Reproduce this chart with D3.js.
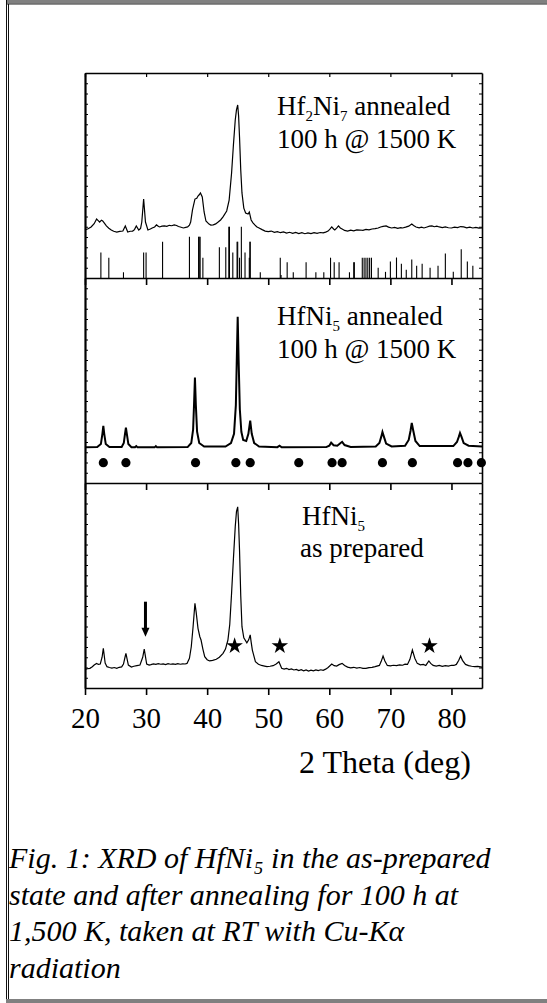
<!DOCTYPE html>
<html>
<head>
<meta charset="utf-8">
<script src="https://cdn.jsdelivr.net/npm/d3@7"></script>
<style>
  body { margin: 0; background: #fff; }
  svg { display: block; font-family: "Liberation Serif", "Times New Roman", serif; }
</style>
</head>
<body>
<div id="chart"></div>
<script>
// 2theta (deg), intensity (arb. units, 0-100 per panel)
var hf2ni7 = [
  [20,23.4],[20.5,24.0],[21.0,24.9],[21.5,26.5],[21.9,28.8],[22.2,27.9],[22.4,27.3],[22.7,28.2],[22.9,27.8],
  [23.2,26.6],[23.5,25.4],[23.9,24.3],[24.3,23.4],[24.7,22.8],[25.2,22.4],[25.7,22.7],[26.2,22.9],
  [26.6,25.4],[27.0,22.4],[27.4,22.8],[27.8,22.9],[28.1,23.6],[28.4,25.4],[28.8,23.4],[29.1,24.2],
  [29.3,27.3],[29.6,38.5],[29.9,27.3],[30.3,23.4],[30.7,23.9],[31.0,24.4],[31.4,24.9],[31.7,25.9],
  [32.0,25.2],[32.2,24.9],[32.6,25.3],[33.0,25.4],[33.4,25.2],[33.8,25.7],[34.2,25.5],[34.6,25.9],
  [35.0,25.6],[35.3,25.1],[35.6,24.9],[36.1,24.4],[36.5,24.7],[36.8,24.9],[37.1,25.8],[37.3,27.3],
  [37.6,33.2],[38.0,38.5],[38.3,38.9],[38.5,40.0],[38.7,40.6],[38.9,41.5],[39.2,39.5],[39.5,32.2],
  [39.8,27.8],[40.3,26.3],[40.6,25.8],[41.0,25.9],[41.4,26.4],[41.8,27.3],[42.2,28.3],[42.6,29.8],
  [43.2,32.7],[43.6,38.0],[44.0,51.2],[44.3,64.9],[44.6,77.1],[44.8,82.0],[45.0,84.4],[45.15,79.0],
  [45.3,68.8],[45.5,52.7],[45.7,41.5],[46.0,34.1],[46.3,31.7],[46.7,31.2],[46.9,32.2],[47.2,28.3],
  [47.5,26.9],[47.8,25.9],[48.1,25.0],[48.5,24.4],[49.0,23.6],[49.5,22.9],[50.0,22.6],[50.5,22.9],
  [51.0,22.3],[51.5,22.6],[52.0,22.1],[52.5,22.5],[53.0,21.9],[53.5,22.3],[54.0,21.8],[54.5,22.2],
  [55.0,21.7],[55.5,22.1],[56.0,21.6],[56.5,22.0],[57.0,21.7],[57.5,22.1],[58.0,21.8],[58.5,22.2],
  [59.0,22.0],[59.4,22.4],[59.8,22.9],[60.1,23.8],[60.4,24.9],[60.7,23.9],[60.9,23.4],[61.2,24.3],
  [61.5,25.4],[61.8,24.4],[62.1,23.9],[62.5,23.2],[63,22.9],[63.5,23.3],[64,23.0],[64.5,23.5],
  [65,23.4],[65.5,23.2],[66,23.7],[66.5,23.5],[67,23.9],[67.5,24.1],[68,24.4],[68.4,24.9],[68.8,25.2],
  [69.3,25.4],[69.7,24.8],[70.2,24.4],[70.7,24.7],[71.2,24.2],[71.7,24.6],[72,24.4],[72.5,24.8],
  [73.0,25.3],[73.5,26.3],[73.8,25.6],[74.2,24.9],[74.7,24.5],[75.1,24.8],[75.5,24.4],[76.0,24.9],
  [76.4,25.3],[76.8,25.4],[77.2,25.0],[77.6,25.3],[78,24.9],[78.5,24.6],[79,24.9],[79.5,24.5],
  [80,24.4],[80.5,24.8],[81,24.6],[81.5,25.1],[82,24.9],[82.5,24.5],[83,24.8],[83.5,24.4],
  [84,24.7],[84.5,24.3],[85,24.4]
];

// reference pattern sticks: position, relative height
var sticks = [
  [22.6,12.5],[23.9,9.9],[26.3,2.8],[29.6,12.5],[30.0,12.5],[32.7,17.7],[37.1,20.1],[38.6,20.1],
  [38.7,20.1],[38.85,20.1],[39.3,9.9],[42.0,15.0],[43.05,15.0],[43.55,25.0],[43.65,25.0],[44.2,12.5],
  [44.9,17.7],[45.0,17.7],[45.3,9.9],[45.6,25.0],[46.2,12.5],[46.9,9.9],[47.0,17.7],[47.05,17.7],
  [48.7,2.8],[51.97,9.9],[52.1,1.5],[53.1,7.7],[54.1,2.8],[56.2,7.7],[57.8,2.8],[59.1,2.8],[60.2,9.9],
  [60.8,7.7],[61.6,7.7],[63.3,2.8],[64.0,7.7],[64.1,7.7],[65.4,9.9],[65.7,9.9],[66.0,9.9],[66.3,9.9],
  [66.6,9.9],[66.9,9.9],[68.0,5],[69.2,3],[70.0,8],[71.0,10],[71.8,7],[72.6,4],[73.5,9],[74.3,6],
  [75.2,7],[76.5,5],[77.8,6],[79.0,12],[80.3,3],[81.6,14],[82.6,8],[83.5,6]
];

var hfni5Annealed = [
  [20,17.4],[22.0,17.6],[22.6,19.0],[22.85,24.0],[23.0,27.9],[23.15,24.0],[23.4,19.0],[24.0,17.6],
  [26.0,17.6],[26.35,19.5],[26.55,24.0],[26.7,27.0],[26.85,24.0],[27.1,19.0],[27.6,17.5],[28.2,17.5],
  [28.4,18.0],[28.6,17.4],[31.4,17.4],[31.6,18.0],[31.8,17.4],[36.8,17.5],[37.4,19.5],[37.7,26.0],
  [37.85,38.0],[38.0,51.4],[38.15,38.0],[38.35,25.0],[38.7,19.5],[39.5,17.8],[43.0,17.8],[43.9,19.5],
  [44.4,24.0],[44.7,38.0],[44.85,60.0],[45.0,81.1],[45.15,60.0],[45.35,36.0],[45.6,25.0],[45.9,21.0],
  [46.4,20.5],[46.75,24.0],[47.05,30.4],[47.3,24.0],[47.7,19.5],[48.5,17.8],[51.5,17.5],[51.85,18.2],
  [52.2,17.4],[59.5,17.5],[60.0,18.2],[60.3,19.7],[60.7,18.4],[61.3,18.2],[61.8,19.4],[62.1,20.1],
  [62.5,18.5],[63.5,17.6],[67.6,17.8],[68.2,19.5],[68.5,22.5],[68.7,24.9],[68.95,22.5],[69.3,19.2],
  [70.2,17.8],[72.4,18.2],[73.0,21.0],[73.3,25.5],[73.5,29.3],[73.75,25.5],[74.1,20.5],[74.8,18.0],
  [80.3,18.0],[80.9,20.0],[81.2,22.5],[81.4,24.4],[81.65,22.5],[82.0,19.5],[82.8,18.2],[85,17.8]
];

// reflection markers of HfNi5
var dots = [23.0,26.7,38.1,44.7,47.05,55.0,60.45,62.1,68.7,73.6,81.0,82.7,84.9];
var dotLevel = 9.9;

var hfni5Prepared = [
  [20,9.1],[20.4,9.4],[20.8,9.6],[21.2,10.4],[21.5,11.2],[21.9,12.0],[22.2,11.5],[22.5,11.7],[22.8,15.0],
  [23.0,19.4],[23.3,12.2],[23.6,10.4],[24.0,10.0],[24.4,9.7],[24.8,10.0],[25.2,9.6],[25.6,10.1],
  [26.0,10.3],[26.3,11.7],[26.55,15.0],[26.7,16.9],[27.1,11.2],[27.6,10.2],[28.0,10.6],[28.5,10.9],
  [29.0,11.2],[29.45,15.0],[29.7,19.0],[30.1,11.7],[30.5,11.2],[30.8,11.4],[31.2,11.8],[31.6,11.5],
  [32.0,11.9],[32.4,11.6],[32.8,11.8],[33.2,11.4],[33.6,11.9],[34.0,11.6],[34.4,11.8],[34.8,11.5],
  [35.2,11.9],[35.6,11.6],[36.0,11.8],[36.4,11.7],[36.7,12.0],[37.1,14.5],[37.4,20.1],[37.7,30.0],
  [38.0,41.3],[38.2,37.0],[38.5,29.1],[38.8,25.0],[39.0,23.4],[39.3,19.0],[39.6,15.3],[40.0,13.8],
  [40.4,13.2],[40.9,13.5],[41.5,14.0],[42.0,15.0],[42.6,16.9],[43.0,19.0],[43.4,23.4],[43.7,31.0],
  [44.0,46.3],[44.3,63.0],[44.6,78.7],[44.8,86.0],[45.0,88.4],[45.15,80.0],[45.3,67.3],[45.5,45.0],
  [45.7,29.9],[46.0,24.5],[46.5,22.0],[46.8,23.5],[47.05,25.9],[47.2,22.5],[47.4,18.5],[47.9,12.8],
  [48.4,11.6],[48.9,11.0],[49.4,10.7],[49.8,10.4],[50.3,10.6],[50.8,10.9],[51.3,11.7],[51.75,12.8],
  [52.2,9.6],[52.6,9.2],[53.0,9.6],[53.4,9.0],[53.8,9.3],[54.2,8.8],[54.6,9.1],[55.0,8.5],[55.4,8.9],
  [55.8,8.4],[56.2,8.8],[56.6,8.3],[57.0,8.7],[57.4,8.4],[57.8,8.8],[58.2,8.5],[58.6,8.9],[59.0,8.6],
  [59.4,9.2],[59.8,10.0],[60.4,11.7],[60.8,10.9],[61.2,10.7],[61.6,11.4],[62.1,12.0],[62.5,11.0],
  [63,10.2],[63.5,9.8],[64,10.1],[64.5,9.7],[65,10.0],[65.5,9.6],[66,9.6],[66.5,9.9],[67,10.1],
  [67.5,10.4],[68.2,11.0],[68.5,13.0],[68.8,15.6],[69.1,13.2],[69.5,11.0],[70.0,10.8],[70.5,11.1],
  [71.0,10.9],[71.5,11.3],[72.0,11.1],[72.4,11.6],[72.8,11.5],[73.2,14.0],[73.6,18.5],[74.0,14.5],
  [74.4,12.0],[74.9,11.3],[75.4,11.5],[75.8,11.0],[76.3,13.2],[76.6,12.0],[77.0,11.0],[77.5,10.7],
  [78.0,11.0],[78.5,10.6],[79.0,10.9],[79.5,10.7],[80.0,11.1],[80.4,11.0],[80.8,11.5],[81.2,13.5],
  [81.5,15.6],[81.8,13.5],[82.3,11.5],[82.8,10.9],[83.3,10.6],[83.8,10.4],[84.3,10.5],[85,10.2]
];
var arrowAt = 29.9, arrowFrom = 42.1, arrowTo = 25.0;
var stars = [[44.5,20.5],[51.9,20.5],[76.4,20.5]];

var xTicks = [20,30,40,50,60,70,80];

var W = 547, H = 1003;
var left = 85, right = 482, top0 = 73, panelH = 205;

var svg = d3.select("#chart").append("svg").attr("width", W).attr("height", H);

// page frame
svg.append("rect").attr("x", 6).attr("y", 0).attr("width", W).attr("height", 3.5).attr("fill", "#808080");
svg.append("line").attr("x1", 6).attr("x2", W).attr("y1", 4).attr("y2", 4).attr("stroke", "#222");
svg.append("line").attr("x1", 6.5).attr("x2", 6.5).attr("y1", 0).attr("y2", 1000).attr("stroke", "#111");
svg.append("line").attr("x1", 8.5).attr("x2", 8.5).attr("y1", 4).attr("y2", 999).attr("stroke", "#111");
svg.append("rect").attr("x", 6).attr("y", 999).attr("width", W).attr("height", 4).attr("fill", "#808080");

var x = d3.scaleLinear().domain([20, 85]).range([left, right]);

function panelY(i) {
  return d3.scaleLinear().domain([0, 100]).range([top0 + (i + 1) * panelH, top0 + i * panelH]);
}

var line = d3.line().x(function(d) { return x(d[0]); });

// panels
[0, 1, 2].forEach(function(i) {
  var y = panelY(i);
  var g = svg.append("g");

  g.append("g")
    .attr("transform", "translate(0," + y(0) + ")")
    .call(d3.axisBottom(x).tickValues(xTicks).tickSizeInner(7).tickSizeOuter(0).tickFormat(i == 2 ? d3.format("d") : ""))
    .call(function(a) {
      a.select(".domain").attr("stroke-width", 1.6);
      a.selectAll(".tick line").attr("stroke-width", 1.6);
      a.selectAll("text").attr("font-size", 29).attr("font-family", "Liberation Serif").attr("dy", "1.05em");
    });

  g.append("g")
    .attr("transform", "translate(" + left + ",0)")
    .call(d3.axisLeft(y).ticks(16).tickSizeInner(-3).tickSizeOuter(0).tickFormat(""))
    .call(function(a) {
      a.select(".domain").attr("stroke-width", 2.2);
      a.selectAll(".tick line").attr("stroke-width", 1);
    });

  g.append("g")
    .attr("transform", "translate(" + right + ",0)")
    .call(d3.axisRight(y).ticks(16).tickSizeInner(-3).tickSizeOuter(0).tickFormat(""))
    .call(function(a) {
      a.select(".domain").attr("stroke-width", 1.6);
      a.selectAll(".tick line").attr("stroke-width", 1);
    });
});

// top edge
svg.append("g")
  .attr("transform", "translate(0," + top0 + ")")
  .call(d3.axisTop(x).tickValues(xTicks).tickSizeInner(-4).tickSizeOuter(0).tickFormat(""))
  .call(function(a) {
    a.select(".domain").attr("stroke-width", 1.6);
    a.selectAll(".tick line").attr("stroke-width", 1.2);
  });

// panel 1: Hf2Ni7
var y0 = panelY(0);
svg.append("path").datum(hf2ni7)
  .attr("d", line.y(function(d) { return y0(d[1]); }))
  .attr("fill", "none").attr("stroke", "#000").attr("stroke-width", 1.2);

svg.append("g").selectAll("line").data(sticks).enter().append("line")
  .attr("x1", function(d) { return x(d[0]); })
  .attr("x2", function(d) { return x(d[0]); })
  .attr("y1", y0(0))
  .attr("y2", function(d) { return y0(d[1]); })
  .attr("stroke", "#000").attr("stroke-width", 1.1);

// panel 2: HfNi5 annealed
var y1 = panelY(1);
svg.append("path").datum(hfni5Annealed)
  .attr("d", line.y(function(d) { return y1(d[1]); }))
  .attr("fill", "none").attr("stroke", "#000").attr("stroke-width", 2);

svg.append("g").selectAll("circle").data(dots).enter().append("circle")
  .attr("cx", function(d) { return x(d); })
  .attr("cy", y1(dotLevel))
  .attr("r", 4.6)
  .attr("fill", "#000");

// panel 3: HfNi5 as prepared
var y2 = panelY(2);
svg.append("path").datum(hfni5Prepared)
  .attr("d", line.y(function(d) { return y2(d[1]); }))
  .attr("fill", "none").attr("stroke", "#000").attr("stroke-width", 1.2);

svg.append("line")
  .attr("x1", x(arrowAt)).attr("x2", x(arrowAt))
  .attr("y1", y2(arrowFrom)).attr("y2", y2(arrowTo) - 8)
  .attr("stroke", "#000").attr("stroke-width", 3);
svg.append("path")
  .attr("d", "M" + (x(arrowAt) - 4) + "," + (y2(arrowTo) - 9) + "L" + (x(arrowAt) + 4) + "," + (y2(arrowTo) - 9) + "L" + x(arrowAt) + "," + y2(arrowTo) + "Z")
  .attr("fill", "#000");

var star = d3.symbol().type(d3.symbolStar).size(85);
svg.append("g").selectAll("path").data(stars).enter().append("path")
  .attr("transform", function(d) { return "translate(" + x(d[0]) + "," + y2(d[1]) + ")"; })
  .attr("d", star)
  .attr("fill", "#000");

// labels
function label(xp, yp, parts) {
  var t = svg.append("text").attr("x", xp).attr("y", yp).attr("font-size", 27);
  parts.forEach(function(p) {
    if (p[1]) {
      t.append("tspan").attr("font-size", 15).attr("dy", 6).text(p[0]);
    } else {
      var s = t.append("tspan").text(p[0]);
      if (p[2]) s.attr("dy", -6);
    }
  });
}
label(277, 115, [["Hf"], ["2", 1], ["Ni", 0, 1], ["7", 1], [" annealed", 0, 1]]);
svg.append("text").attr("x", 277).attr("y", 148).attr("font-size", 27).text("100 h @ 1500 K");
label(277, 325, [["HfNi"], ["5", 1], [" annealed", 0, 1]]);
svg.append("text").attr("x", 277).attr("y", 358).attr("font-size", 27).text("100 h @ 1500 K");
label(302, 525, [["HfNi"], ["5", 1]]);
svg.append("text").attr("x", 300).attr("y", 557).attr("font-size", 27).text("as prepared");

svg.append("text").attr("x", 299).attr("y", 773).attr("font-size", 32).text("2 Theta (deg)");

// caption
var caption = ["Fig. 1: XRD of HfNi\u2085 in the as-prepared",
  "state and after annealing for 100 h at",
  "1,500 K, taken at RT with Cu-K\u03b1",
  "radiation"];
svg.append("g").selectAll("text").data(caption).enter().append("text")
  .attr("x", 9)
  .attr("y", function(d, i) { return 868 + i * 36.7; })
  .attr("font-size", 30)
  .attr("font-style", "italic")
  .text(function(d) { return d; });
</script>
</body>
</html>
